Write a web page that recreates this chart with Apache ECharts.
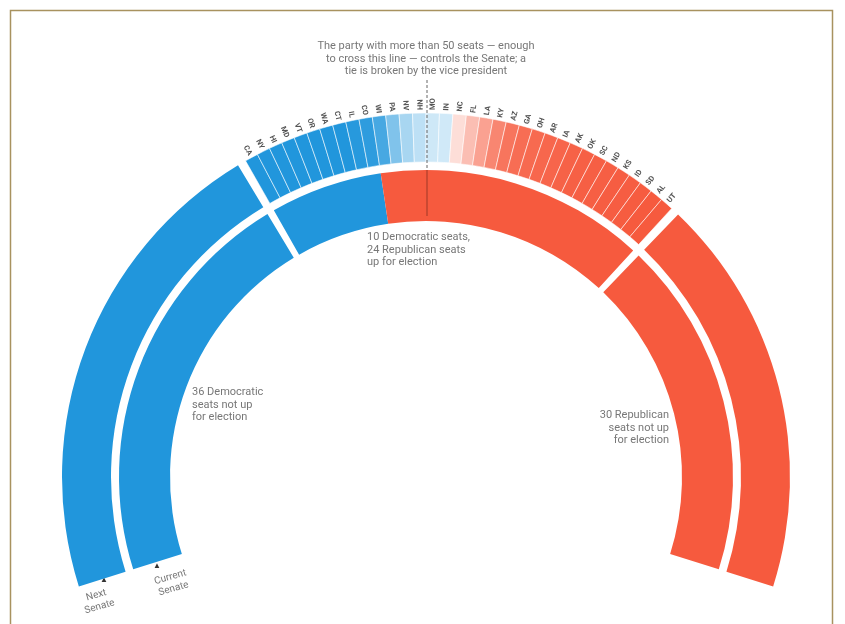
<!DOCTYPE html>
<html>
<head>
<meta charset="utf-8">
<script src="https://cdn.jsdelivr.net/npm/echarts@6/dist/echarts.min.js"></script>
<style>
html,body{margin:0;padding:0;background:#fff;}
#chart{width:845px;height:624px;}
</style>
</head>
<body>
<div id="chart"></div>
<script>
// ---- Data ----
// Current Senate (inner ring): blocks of seats
const currentNames = ['Democratic seats not up', 'Democratic seats up', 'Republican seats up', 'Republican seats not up'];
const currentSeats = [36, 10, 24, 30];
const currentParty = ['D', 'D', 'R', 'R'];

// Next Senate (outer ring): seats not up + 34 races ordered by lean
const notUpDem = 36;
const notUpRep = 30;
const stateCodes = ['CA','NY','HI','MD','VT','OR','WA','CT','IL','CO','WI','PA','NV','NH','MO','IN',
                    'NC','FL','LA','KY','AZ','GA','OH','AR','IA','AK','OK','SC','ND','KS','ID','SD','AL','UT'];
const stateParty = ['D','D','D','D','D','D','D','D','D','D','D','D','D','D','D','D',
                    'R','R','R','R','R','R','R','R','R','R','R','R','R','R','R','R','R','R'];
const stateLean = [1,1,1,1,1,1,1,1,0.97,0.94,0.82,0.55,0.36,0.26,0.18,0.17,
                   0.16,0.36,0.55,0.72,0.83,0.88,0.9,0.92,0.93,0.95,0.96,0.97,0.97,0.98,0.98,0.99,1,1];

// ---- Styles ----
const BLUE = [33,150,220];
const RED = [246,90,62];
const GAP = 0.65;
const CX = 426, CY = 477;
const FONT = 'Roboto, "Noto Sans", sans-serif';

function shade(party, lean) {
  const base = party === 'D' ? BLUE : RED;
  const t = (1 - lean) * 0.95;
  const c = base.map(v => Math.round(v + (255 - v) * t));
  return 'rgb(' + c.join(',') + ')';
}
function spacer() {
  return { value: GAP, name: '', itemStyle: { color: 'rgba(0,0,0,0)', borderWidth: 0 }, label: { show: false }, emphasis: { disabled: true } };
}
function block(v, party, name) {
  return { value: v, name: name, itemStyle: { color: party === 'D' ? shade('D',1) : shade('R',1), borderWidth: 0 }, label: { show: false } };
}

const innerData = [];
currentSeats.forEach((v, i) => {
  if (i === 1 || i === 3) innerData.push(spacer());
  innerData.push(block(v, currentParty[i], currentNames[i]));
});

const outerData = [block(notUpDem, 'D', 'Democratic seats not up'), spacer()];
stateCodes.forEach((s, i) => {
  outerData.push({
    value: 1, name: s,
    itemStyle: { color: shade(stateParty[i], stateLean[i]), borderColor: 'rgba(255,255,255,0.55)', borderWidth: 1 }
  });
});
outerData.push(spacer());
outerData.push(block(notUpRep, 'R', 'Republican seats not up'));

const commonPie = {
  type: 'pie',
  center: [CX, CY],
  startAngle: 197.5,
  endAngle: -17.5,
  clockwise: true,
  silent: true,
  avoidLabelOverlap: false,
  animation: false,
  labelLine: { show: false, length: 3, length2: 0 }
};

const chart = echarts.init(document.getElementById('chart'), null, { renderer: 'canvas' });
const txt = (x, y, text, align, extra) => Object.assign({
  type: 'text', x: x, y: y, silent: true,
  style: { text: text, fill: '#777', font: '11px ' + FONT, align: align || 'left', verticalAlign: 'top', lineHeight: 12.5 }
}, extra || {});

chart.setOption({
  backgroundColor: '#fff',
  series: [
    Object.assign({}, commonPie, {
      name: 'Current Senate',
      radius: [256, 307],
      label: { show: false },
      data: innerData
    }),
    Object.assign({}, commonPie, {
      name: 'Next Senate',
      radius: [315, 364],
      label: { show: true, position: 'outside', rotate: 'radial', fontSize: 7.5, fontWeight: 'bold', color: '#555', fontFamily: FONT, distanceToLabelLine: 0 },
      data: outerData
    })
  ],
  graphic: [
    { type: 'rect', silent: true, shape: { x: 10.5, y: 10.5, width: 822, height: 640 }, style: { fill: 'none', stroke: '#a8925f', lineWidth: 1.5 } },
    { type: 'line', silent: true, shape: { x1: CX + 1, y1: 80, x2: CX + 1, y2: 168 }, style: { stroke: '#666', lineWidth: 1, lineDash: [3, 2] }, z: 100 },
    { type: 'line', silent: true, shape: { x1: CX + 1, y1: 170, x2: CX + 1, y2: 216 }, style: { stroke: 'rgba(90,30,20,0.55)', lineWidth: 1 }, z: 100 },
    txt(CX, 40, 'The party with more than 50 seats \u2014 enough\nto cross this line \u2014 controls the Senate; a\ntie is broken by the vice president', 'center'),
    txt(367, 231, '10 Democratic seats,\n24 Republican seats\nup for election'),
    txt(192, 386, '36 Democratic\nseats not up\nfor election'),
    txt(669, 409, '30 Republican\nseats not up\nfor election', 'right'),
    { type: 'text', silent: true, x: 104, y: 580, style: { text: '\u25B2', fill: '#333', font: '8px ' + FONT, align: 'center', verticalAlign: 'middle' } },
    { type: 'text', silent: true, x: 98, y: 601, rotation: 0.28, style: { text: 'Next\nSenate', fill: '#777', font: '10px ' + FONT, align: 'center', verticalAlign: 'middle', lineHeight: 12 } },
    { type: 'text', silent: true, x: 157, y: 566, style: { text: '\u25B2', fill: '#333', font: '8px ' + FONT, align: 'center', verticalAlign: 'middle' } },
    { type: 'text', silent: true, x: 172, y: 583, rotation: 0.28, style: { text: 'Current\nSenate', fill: '#777', font: '10px ' + FONT, align: 'center', verticalAlign: 'middle', lineHeight: 12 } }
  ]
});
</script>
</body>
</html>
